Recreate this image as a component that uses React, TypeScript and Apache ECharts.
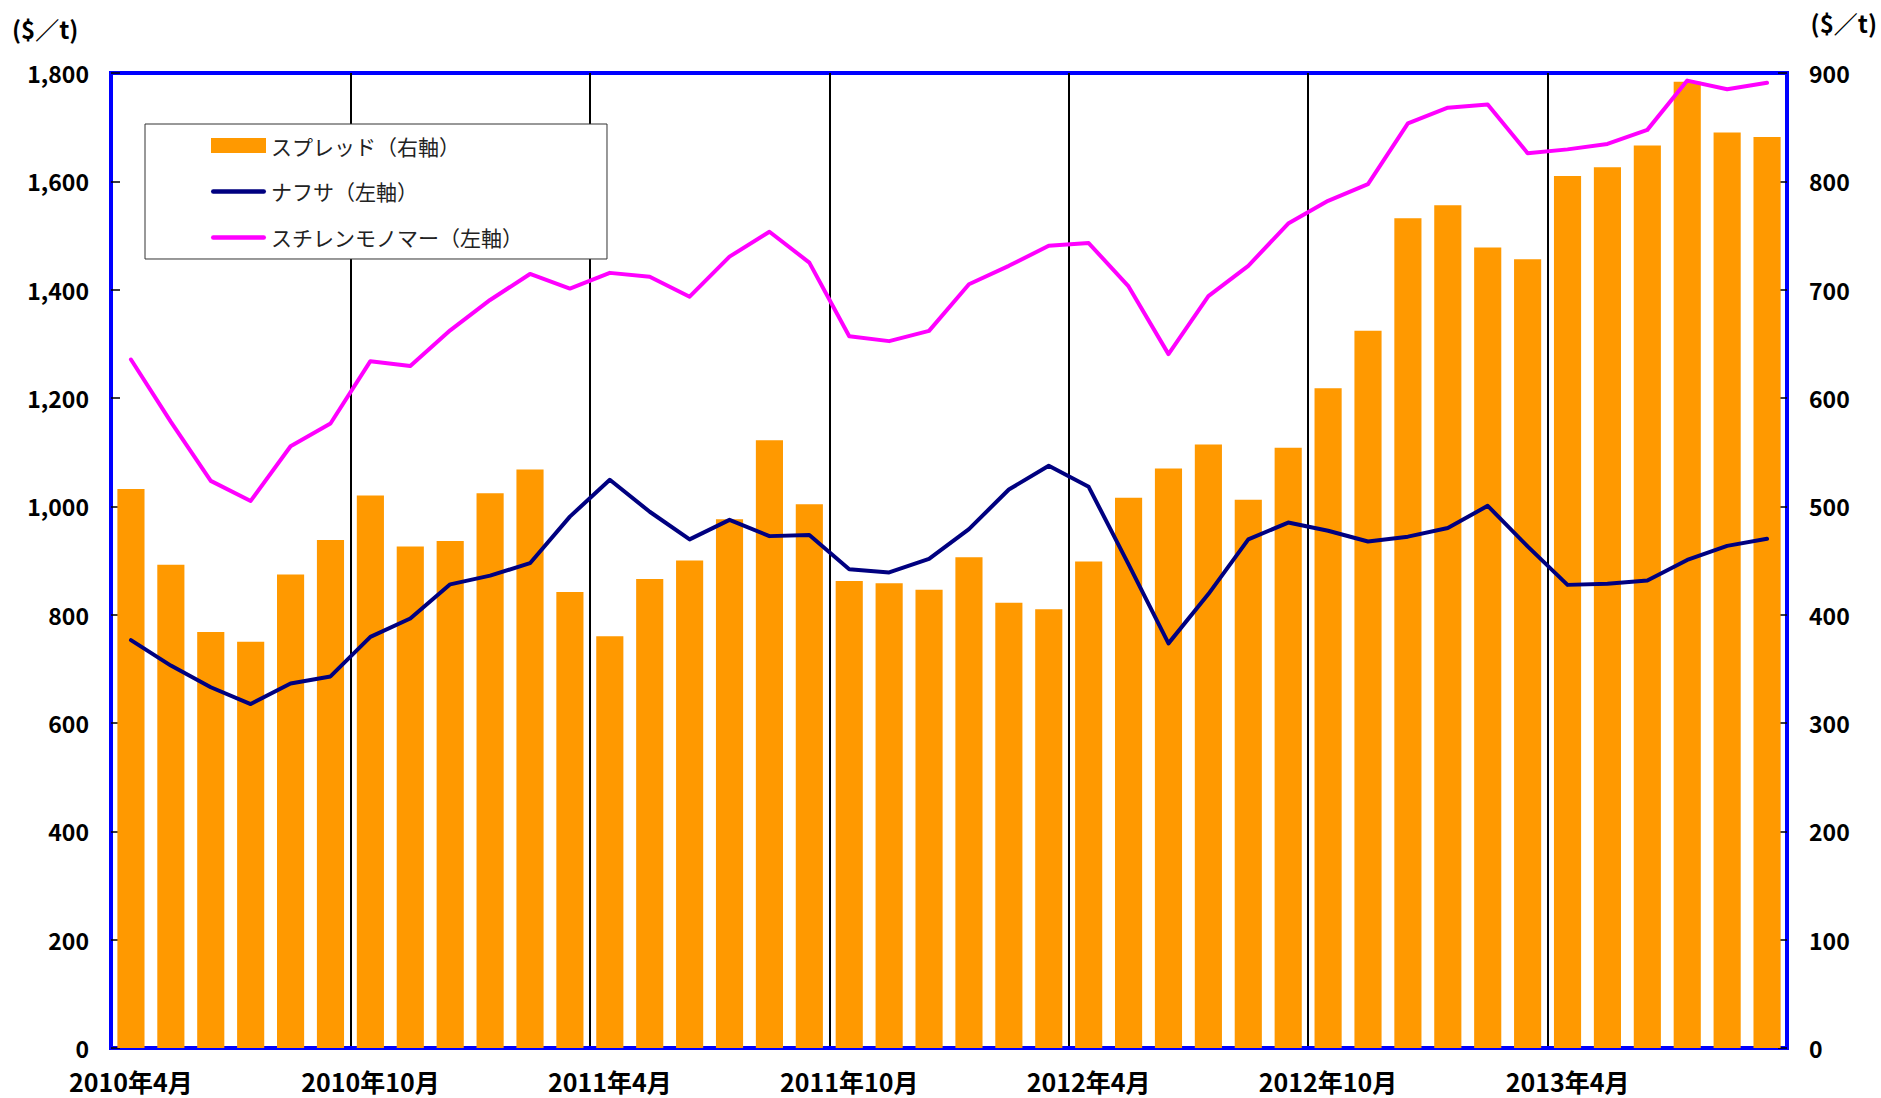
import React, { useEffect, useRef } from "react";
import * as echarts from "echarts";

const months: string[] = [
  "2010年4月", "2010年5月", "2010年6月", "2010年7月", "2010年8月", "2010年9月",
  "2010年10月", "2010年11月", "2010年12月", "2011年1月", "2011年2月", "2011年3月",
  "2011年4月", "2011年5月", "2011年6月", "2011年7月", "2011年8月", "2011年9月",
  "2011年10月", "2011年11月", "2011年12月", "2012年1月", "2012年2月", "2012年3月",
  "2012年4月", "2012年5月", "2012年6月", "2012年7月", "2012年8月", "2012年9月",
  "2012年10月", "2012年11月", "2012年12月", "2013年1月", "2013年2月", "2013年3月",
  "2013年4月", "2013年5月", "2013年6月", "2013年7月", "2013年8月", "2013年9月",
];

// スプレッド (right axis, $/t)
const spread: number[] = [
  516, 446, 384, 375, 437, 469, 510, 463, 468, 512, 534, 421,
  380, 433, 450, 488, 561, 502, 431, 429, 423, 453, 411, 405,
  449, 508, 535, 557, 506, 554, 609, 662, 766, 778, 739, 728,
  805, 813, 833, 892, 845, 841,
];

// ナフサ (left axis, $/t)
const naphtha: number[] = [
  753, 706, 666, 635, 673, 686, 759, 793, 856, 872, 895, 981,
  1049, 990, 939, 975, 945, 947, 884, 878, 903, 958, 1031, 1075,
  1036, 893, 747, 838, 939, 970, 955, 935, 944, 960, 1001, 926,
  855, 857, 863, 901, 927, 940,
];

// スチレンモノマー (left axis, $/t)
const styrene: number[] = [
  1271, 1156, 1047, 1010, 1111, 1153, 1268, 1259, 1325, 1381, 1429, 1402,
  1431, 1424, 1387, 1461, 1507, 1450, 1314, 1305, 1324, 1410, 1444, 1481,
  1486, 1406, 1281, 1388, 1444, 1522, 1564, 1595, 1707, 1736, 1742, 1652,
  1659, 1669, 1695, 1786, 1770, 1782,
];

const seriesNames = ["スプレッド（右軸）", "ナフサ（左軸）", "スチレンモノマー（左軸）"];
const unitLabel = "($／t)";

const FONT = "'Noto Sans CJK JP', 'Noto Sans', sans-serif";
const LINE_ICON =
  "path://M2.25,0 L52.75,0 A2.25,2.25 0 0 1 52.75,4.5 L2.25,4.5 A2.25,2.25 0 0 1 2.25,0 Z";

export default function App() {
  const ref = useRef<HTMLDivElement>(null);

  useEffect(() => {
    if (!ref.current) return;
    const chart = echarts.init(ref.current, undefined, { renderer: "svg" });
    const fmt = (v: number) => String(v).replace(/\B(?=(\d{3})+(?!\d))/g, ",");

    chart.setOption({
      animation: false,
      backgroundColor: "#ffffff",
      textStyle: { fontFamily: FONT },
      grid: {
        left: 111,
        right: 94,
        top: 73,
        bottom: 50,
        show: true,
        borderColor: "#0000FF",
        borderWidth: 4,
        backgroundColor: "transparent",
      },
      legend: {
        orient: "vertical",
        left: 145,
        top: 124,
        itemWidth: 55,
        itemHeight: 15,
        itemGap: 25,
        symbolKeepAspect: true,
        padding: [11, 84, 11, 66],
        borderColor: "#333333",
        borderWidth: 1,
        backgroundColor: "#ffffff",
        textStyle: { fontFamily: FONT, fontSize: 21, color: "#222222", fontWeight: "normal" },
        data: [
          { name: seriesNames[0], icon: "rect" },
          { name: seriesNames[1], icon: LINE_ICON },
          { name: seriesNames[2], icon: LINE_ICON },
        ],
      },
      graphic: [
        {
          type: "text",
          left: 12,
          top: 16,
          style: { text: unitLabel, font: `bold 24px ${FONT}`, fill: "#000" },
        },
        {
          type: "text",
          right: 4,
          top: 10,
          style: { text: unitLabel, font: `bold 24px ${FONT}`, fill: "#000" },
        },
      ],
      xAxis: {
        type: "category",
        data: months,
        boundaryGap: true,
        axisLine: { show: true, lineStyle: { color: "#0000FF", width: 4 } },
        axisTick: { show: false },
        axisLabel: {
          interval: 5,
          margin: 20,
          color: "#000",
          fontSize: 25,
          lineHeight: 26,
          fontWeight: "bold",
          fontFamily: FONT,
        },
        splitLine: { show: true, interval: 5, lineStyle: { color: "#000000", width: 2 } },
      },
      yAxis: [
        {
          type: "value",
          min: 0,
          max: 1800,
          interval: 200,
          position: "left",
          axisLine: { show: true, lineStyle: { color: "#0000FF", width: 4 } },
          axisTick: { show: true, inside: true, length: 9, lineStyle: { color: "#000", width: 1.5 } },
          axisLabel: {
            margin: 22,
            color: "#000",
            fontSize: 23,
            fontWeight: "bold",
            fontFamily: FONT,
            formatter: (v: number) => fmt(v),
          },
          splitLine: { show: false },
        },
        {
          type: "value",
          min: 0,
          max: 900,
          interval: 100,
          position: "right",
          axisLine: { show: true, lineStyle: { color: "#0000FF", width: 4 } },
          axisTick: { show: true, inside: true, length: 9, lineStyle: { color: "#000", width: 1.5 } },
          axisLabel: {
            margin: 22,
            color: "#000",
            fontSize: 23,
            fontWeight: "bold",
            fontFamily: FONT,
            formatter: (v: number) => fmt(v),
          },
          splitLine: { show: false },
        },
      ],
      series: [
        {
          name: seriesNames[0],
          type: "bar",
          yAxisIndex: 1,
          data: spread,
          barCategoryGap: "32%",
          itemStyle: { color: "#FF9900" },
          z: 2,
        },
        {
          name: seriesNames[1],
          type: "line",
          yAxisIndex: 0,
          data: naphtha,
          symbol: "none",
          lineStyle: { color: "#000080", width: 4, cap: "round", join: "round" },
          itemStyle: { color: "#000080" },
          z: 4,
        },
        {
          name: seriesNames[2],
          type: "line",
          yAxisIndex: 0,
          data: styrene,
          symbol: "none",
          lineStyle: { color: "#FF00FF", width: 4, cap: "round", join: "round" },
          itemStyle: { color: "#FF00FF" },
          z: 3,
        },
      ],
    });

    return () => chart.dispose();
  }, []);

  return (
    <div
      ref={ref}
      style={{ position: "fixed", left: 0, top: 0, width: 1881, height: 1098, background: "#fff" }}
    />
  );
}
